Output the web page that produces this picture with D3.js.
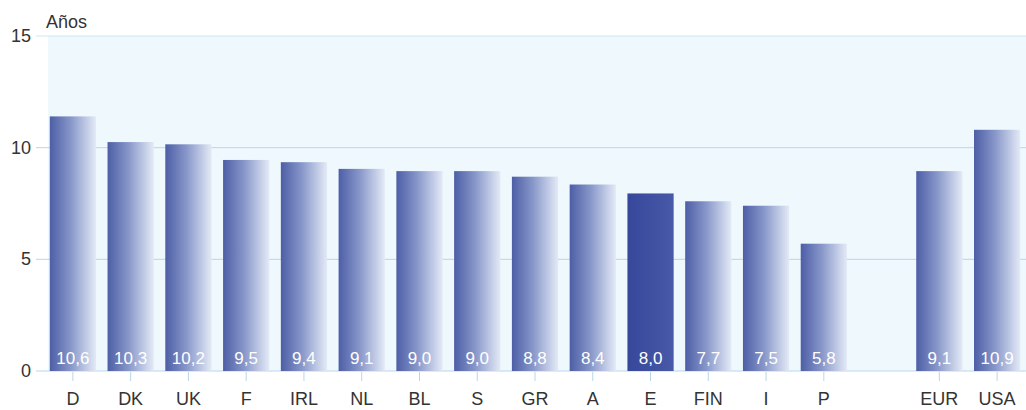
<!DOCTYPE html>
<html><head><meta charset="utf-8">
<script src="https://cdn.jsdelivr.net/npm/d3@7/dist/d3.min.js"></script>
<style>body{margin:0;background:#fff;}svg{display:block;font-family:"Liberation Sans",Arial,sans-serif;}</style>
</head><body><svg id="c" width="1026" height="410"></svg>
<script>
const categories = ["D","DK","UK","F","IRL","NL","BL","S","GR","A","E","FIN","I","P","","EUR","USA"];
const barValues  = [11.4,10.25,10.15,9.45,9.35,9.05,8.95,8.95,8.7,8.35,7.95,7.6,7.4,5.7,null,8.95,10.8];
const valueLabels = ["10,6","10,3","10,2","9,5","9,4","9,1","9,0","9,0","8,8","8,4","8,0","7,7","7,5","5,8","","9,1","10,9"];
const highlight = ["E"];
const yTicks = [0,5,10,15];
const yTitle = "Años";

const svg = d3.select("#c");
const x = d3.scaleBand().domain(categories.map((c,i)=>i)).range([44,1026]).paddingInner(0.2).paddingOuter(0.1);
const y = d3.scaleLinear().domain([0,15]).range([371,36]);

const defs = svg.append("defs");
const g1 = defs.append("linearGradient").attr("id","gb").attr("x1","0").attr("x2","1").attr("y1","0").attr("y2","0");
g1.append("stop").attr("offset","0").attr("stop-color","#4d5ea6");
g1.append("stop").attr("offset","0.45").attr("stop-color","#8796c9");
g1.append("stop").attr("offset","1").attr("stop-color","#e3eaf6");
const g2 = defs.append("linearGradient").attr("id","ge").attr("x1","0").attr("x2","1").attr("y1","0").attr("y2","0");
g2.append("stop").attr("offset","0").attr("stop-color","#37479a");
g2.append("stop").attr("offset","1").attr("stop-color","#4859a8");

// plot background
svg.append("rect").attr("x",48).attr("y",y(15)).attr("width",1026-48).attr("height",y(0)-y(15)).attr("fill","#eef8fd");

// gridlines + y ticks
svg.append("g").selectAll("line").data(yTicks).join("line")
  .attr("x1",36).attr("x2",1026).attr("y1",d=>y(d)).attr("y2",d=>y(d))
  .attr("stroke",d=>d===15?"#cfe6f3":"#b9d6ea").attr("stroke-width",1);

svg.append("g").selectAll("text").data(yTicks).join("text")
  .attr("x",31).attr("y",d=>y(d)+6).attr("text-anchor","end")
  .attr("font-size",18).attr("fill","#333").text(d=>d);

svg.append("text").attr("x",46).attr("y",28).attr("font-size",18).attr("fill","#333").text(yTitle);

// bars
const idx = categories.map((c,i)=>i).filter(i=>barValues[i]!=null);
svg.append("g").selectAll("rect").data(idx).join("rect")
  .attr("x",i=>x(i)).attr("width",x.bandwidth())
  .attr("y",i=>y(barValues[i])).attr("height",i=>y(0)-y(barValues[i]))
  .attr("fill",i=>highlight.includes(categories[i])?"url(#ge)":"url(#gb)");

// value labels
svg.append("g").selectAll("text").data(idx).join("text")
  .attr("x",i=>x(i)+x.bandwidth()/2).attr("y",364).attr("text-anchor","middle")
  .attr("font-size",17).attr("fill","#fff").text(i=>valueLabels[i]);

// x ticks and labels
svg.append("g").selectAll("line").data(idx).join("line")
  .attr("x1",i=>x(i)+x.bandwidth()/2).attr("x2",i=>x(i)+x.bandwidth()/2)
  .attr("y1",372).attr("y2",381).attr("stroke","#b9d6ea");
svg.append("g").selectAll("text").data(idx).join("text")
  .attr("x",i=>x(i)+x.bandwidth()/2).attr("y",405).attr("text-anchor","middle")
  .attr("font-size",18).attr("fill","#333").text(i=>categories[i]);
</script></body></html>
